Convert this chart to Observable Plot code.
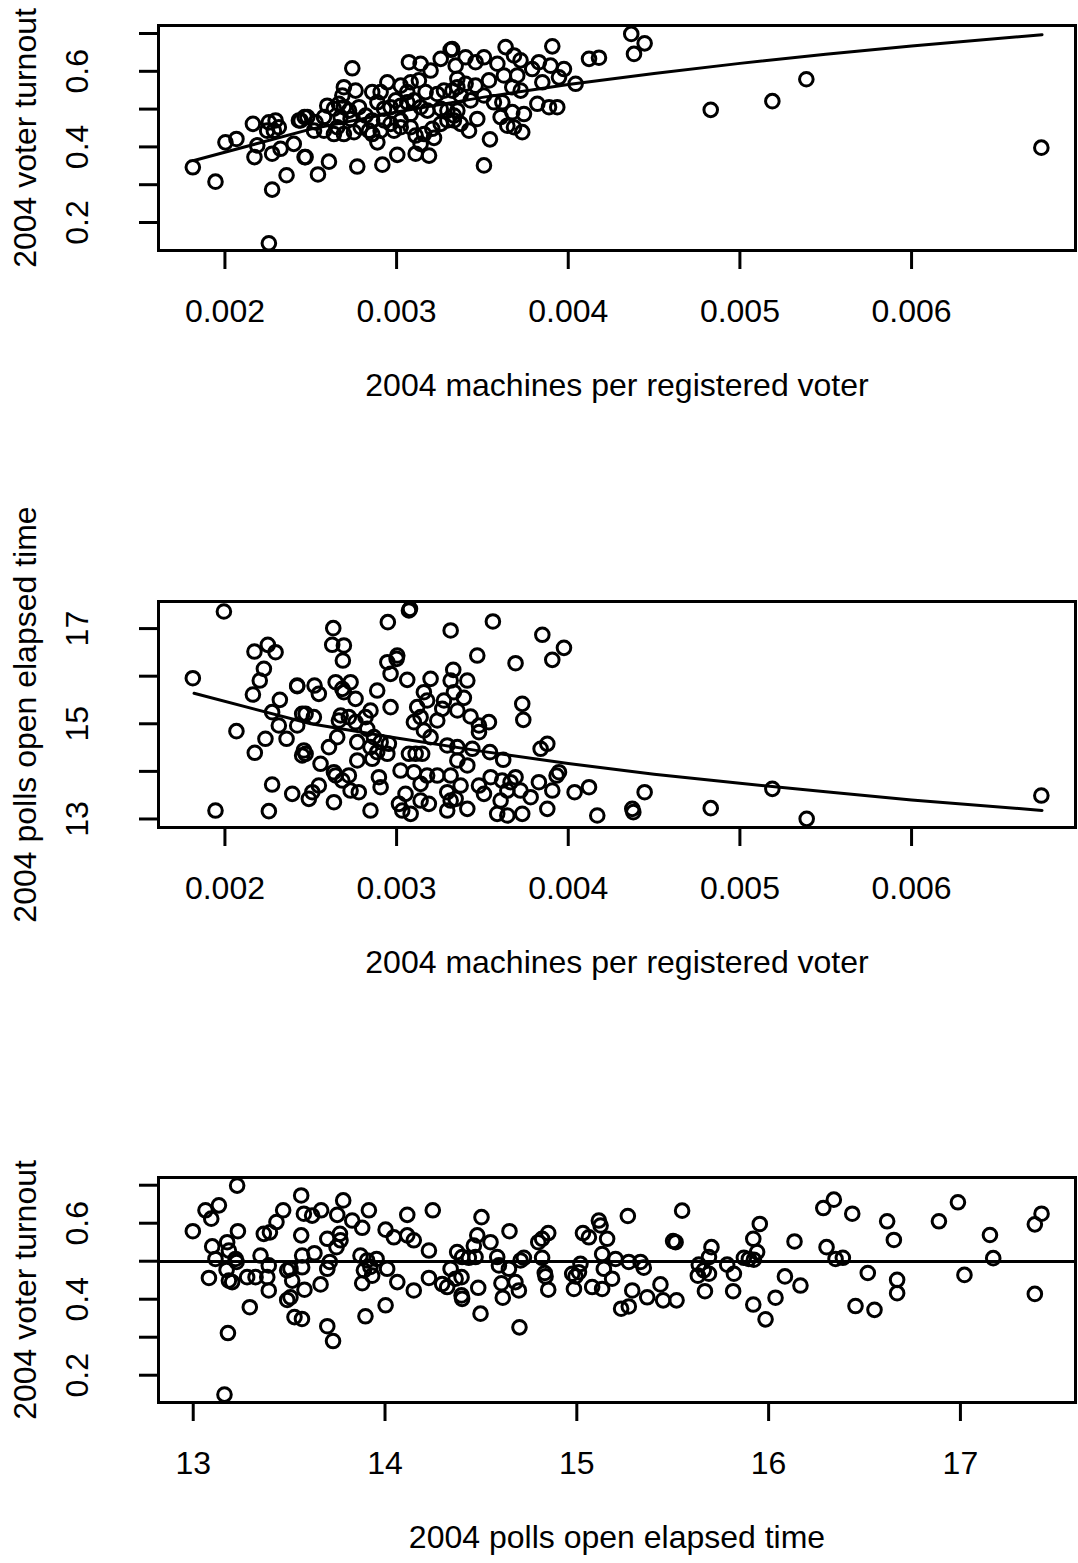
<!DOCTYPE html>
<html><head><meta charset="utf-8">
<script src="https://cdn.jsdelivr.net/npm/d3@7"></script>
<script src="https://cdn.jsdelivr.net/npm/@observablehq/plot@0.6"></script>
<style>
body{margin:0;background:#fff;}
#wrap{position:relative;width:1078px;height:1563px;background:#fff;}
#wrap svg{position:absolute;left:0;}
</style></head><body><div id="wrap"></div>
<script>
// ---------- Panel 1: machines per registered voter vs turnout ----------
const p1Machines = [0.001813,0.001945,0.002275,0.002359,0.002256,0.002003,0.002067,0.002163,0.002295,0.002246,0.002314,0.002188,0.002172,0.002275,0.002324,0.002401,0.002464,0.002431,0.002464,0.002256,0.002285,
0.002742,0.002470,0.002542,0.002606,0.002771,0.002917,0.003004,0.003111,0.003189,0.003218,0.003072,0.003140,0.003198,0.003257,0.003315,0.003344,0.002693,0.002761,0.002684,0.002596,0.002858,0.002946,0.002907,0.003024,0.003082,0.003130,0.003169,0.003276,0.003325,0.003354,0.002441,0.002480,0.002528,0.002577,0.002635,0.002664,0.002693,0.002723,0.002674,0.002732,0.002781,0.002820,0.002858,0.002888,0.002927,0.002965,0.002995,0.003024,0.003062,0.003101,0.003140,0.003179,0.003082,0.003024,0.002965,0.002927,0.002907,0.002858,0.002839,0.002791,0.002752,0.002693,0.002635,0.002577,0.002519,0.002655,0.002985,0.003024,0.003082,0.003111,0.003140,0.002888,0.003257,0.003296,0.003334,0.003296,0.003257,0.003208,0.003160,0.003237,0.003062,
0.003907,0.004121,0.004179,0.003635,0.003324,0.003509,0.003402,0.003460,0.003587,0.003684,0.003722,0.003829,0.003790,0.003897,0.003975,0.003946,0.004043,0.003849,0.003703,0.003625,0.003538,0.003460,0.003402,0.003354,0.003723,0.003674,0.003567,0.003616,0.003820,0.003888,0.003936,0.003431,0.003373,0.003509,0.003470,0.003422,0.003674,0.003742,0.003606,0.003645,0.003732,0.003684,0.003544,0.003509,0.003354,0.003334,0.003373,
0.004367,0.004445,0.004383,0.004830,0.005189,0.005387,0.006756];
const p1Turnout = [0.346,0.308,0.287,0.325,0.145,0.412,0.421,0.461,0.470,0.443,0.452,0.404,0.373,0.382,0.395,0.408,0.373,0.470,0.479,0.465,0.443,
0.608,0.373,0.327,0.361,0.348,0.353,0.379,0.382,0.377,0.424,0.624,0.620,0.602,0.633,0.657,0.615,0.558,0.549,0.536,0.509,0.545,0.571,0.545,0.562,0.571,0.576,0.545,0.549,0.549,0.558,0.470,0.479,0.465,0.479,0.501,0.514,0.505,0.496,0.479,0.474,0.505,0.483,0.470,0.518,0.501,0.505,0.523,0.509,0.518,0.523,0.505,0.496,0.487,0.470,0.461,0.470,0.443,0.434,0.443,0.452,0.439,0.434,0.434,0.443,0.443,0.452,0.443,0.452,0.452,0.430,0.408,0.412,0.501,0.496,0.483,0.470,0.461,0.448,0.434,0.540,0.545,
0.666,0.633,0.636,0.664,0.659,0.637,0.637,0.624,0.620,0.642,0.629,0.624,0.606,0.615,0.606,0.584,0.567,0.571,0.589,0.589,0.576,0.562,0.567,0.580,0.549,0.558,0.518,0.518,0.514,0.505,0.505,0.523,0.536,0.536,0.474,0.443,0.492,0.487,0.479,0.456,0.439,0.452,0.420,0.351,0.496,0.470,0.461,
0.699,0.674,0.646,0.498,0.521,0.579,0.398];
const fit1Machines = [0.00182,0.0025,0.003,0.0035,0.004,0.0045,0.005,0.0055,0.006,0.00676];
const fit1Turnout  = [0.364,0.447,0.4925,0.531,0.565,0.594,0.621,0.645,0.667,0.697];

// ---------- Panel 2: machines per registered voter vs polls open elapsed time ----------
const p2Machines = [0.001994,0.001813,0.001945,0.002067,0.002256,0.002275,0.002392,0.002172,0.002250,0.002295,0.002227,0.002203,0.002163,0.002320,0.002275,0.002421,0.002314,0.002236,0.002359,0.002174,0.002421,0.002450,0.002450,
0.003072,0.003078,0.002949,0.002631,0.002625,0.002693,0.002687,0.002946,0.003004,0.003000,0.002965,0.003062,0.003198,0.002421,0.002522,0.002547,0.002645,0.002684,0.002732,0.002693,0.002761,0.002887,0.002965,0.002848,0.003159,0.003178,0.003120,0.003140,0.003101,0.003159,0.003198,0.002470,0.002518,0.002674,0.002722,0.002664,0.002761,0.002819,0.002829,0.002868,0.002907,0.002955,0.002848,0.002887,0.002946,0.002858,0.002654,0.002606,0.002470,0.002460,0.002771,0.002771,0.002557,0.002645,0.002684,0.002722,0.002635,0.002732,0.002780,0.002907,0.002897,0.003023,0.003072,0.003111,0.003149,0.003101,0.003140,0.003178,0.003052,0.003014,0.003033,0.003082,0.003140,0.003188,0.002848,0.002635,0.002547,0.002509,0.002489,
0.003315,0.003561,0.003470,0.003693,0.003849,0.003907,0.003975,0.003330,0.003315,0.003412,0.003392,0.003334,0.003276,0.003266,0.003354,0.003431,0.003480,0.003480,0.003538,0.003237,0.003732,0.003738,0.003295,0.003354,0.003441,0.003544,0.003621,0.003354,0.003412,0.003839,0.003878,0.003946,0.003932,0.003237,0.003315,0.003373,0.003295,0.003315,0.003344,0.003412,0.003295,0.003480,0.003509,0.003548,0.003615,0.003664,0.003693,0.003645,0.003606,0.003722,0.003586,0.003645,0.003732,0.003781,0.003829,0.003907,0.003878,0.004037,0.004121,0.004169,
0.004445,0.004373,0.004379,0.004830,0.005189,0.005389,0.006756];
const p2Elapsed = [17.359,15.958,13.178,14.845,13.164,13.724,13.528,16.518,16.658,16.504,16.154,15.909,15.615,15.503,15.244,15.804,14.964,14.684,14.684,14.390,14.964,15.209,14.334,
17.380,17.415,17.135,17.009,16.659,16.645,16.329,16.294,16.434,16.364,16.049,15.923,15.944,15.790,15.804,15.629,15.874,15.734,15.874,15.664,15.524,15.699,15.349,15.279,15.664,15.489,15.349,15.139,15.034,14.859,14.719,15.209,15.139,15.174,15.139,15.069,15.034,15.139,14.894,14.719,14.614,14.579,14.509,14.404,14.369,14.264,14.719,14.509,14.369,14.439,14.614,14.229,14.159,13.914,13.808,13.914,13.983,13.598,13.563,13.668,13.878,14.018,14.369,14.369,14.369,13.983,13.738,13.913,13.528,13.318,13.178,13.108,13.388,13.318,13.178,13.353,13.703,13.563,13.423,
16.960,17.149,16.434,16.273,16.869,16.343,16.595,16.133,15.909,15.909,15.545,15.664,15.489,15.314,15.279,15.153,14.964,14.824,15.034,15.069,15.419,15.083,14.544,14.509,14.474,14.404,14.243,14.229,14.124,14.474,14.579,13.983,13.913,13.913,13.913,13.703,13.563,13.388,13.423,13.213,13.178,13.703,13.528,13.878,13.808,13.773,13.878,13.598,13.388,13.598,13.108,13.073,13.108,13.458,13.773,13.598,13.213,13.563,13.668,13.073,
13.563,13.213,13.143,13.227,13.633,13.003,13.493];
const fit2Machines = [0.00182,0.0025,0.003,0.0035,0.004,0.0045,0.005,0.0055,0.006,0.00676];
const fit2Elapsed  = [15.64,15.0,14.70,14.42,14.165,13.94,13.75,13.57,13.40,13.18];

// ---------- Panel 3: polls open elapsed time vs turnout ----------
const p3Elapsed = [13.229,12.998,13.064,13.094,13.134,13.099,13.116,13.177,13.233,13.186,13.221,13.226,13.174,13.082,13.186,13.203,13.181,13.163,13.295,13.281,13.325,13.351,13.386,13.394,13.394,13.368,13.400,13.434,13.469,13.563,13.577,13.620,13.667,13.563,13.568,13.568,13.507,13.490,13.516,13.580,13.507,13.490,13.528,13.567,13.632,13.664,13.699,13.712,13.699,13.699,13.729,13.751,13.782,13.765,13.768,13.747,13.829,13.881,13.916,13.872,13.907,13.890,13.924,13.933,13.881,13.898,13.956,14.003,14.003,14.011,
14.046,14.116,14.116,14.150,14.249,14.229,14.064,14.150,14.229,14.298,14.324,14.342,14.368,14.399,14.399,14.402,14.376,14.402,14.437,14.472,14.463,14.481,14.503,14.550,14.486,14.498,14.585,14.594,14.646,14.607,14.614,14.649,14.680,14.698,14.701,14.707,14.724,14.799,14.819,14.851,14.819,14.833,14.837,14.851,14.976,14.993,15.011,14.985,15.032,15.063,15.115,15.124,15.158,15.132,15.141,15.080,15.132,15.019,
15.184,15.202,15.266,15.271,15.332,15.349,15.289,15.271,15.231,15.367,15.436,15.450,15.520,15.502,15.515,15.549,15.636,15.631,15.662,15.689,15.689,15.702,15.668,15.784,15.819,15.815,15.871,15.897,15.923,15.940,15.920,15.954,15.920,15.984,16.036,16.085,16.166,16.135,16.285,16.340,16.302,16.349,
16.436,16.387,16.517,16.453,16.552,16.618,16.653,16.670,16.670,16.888,16.987,17.021,17.154,17.171,17.388,17.423,17.388];
const p3Turnout = [0.699,0.579,0.634,0.612,0.647,0.539,0.506,0.550,0.579,0.528,0.506,0.498,0.477,0.456,0.449,0.445,0.311,0.149,0.379,0.458,0.458,0.515,0.458,0.489,0.423,0.572,0.576,0.603,0.634,0.673,0.625,0.620,0.634,0.568,0.515,0.484,0.480,0.476,0.449,0.425,0.405,0.398,0.353,0.348,0.521,0.439,0.480,0.498,0.559,0.329,0.290,0.622,0.660,0.572,0.555,0.537,0.607,0.588,0.634,0.515,0.502,0.476,0.485,0.462,0.442,0.355,0.506,0.583,0.384,0.480,
0.563,0.622,0.568,0.555,0.634,0.528,0.445,0.423,0.456,0.440,0.432,0.480,0.454,0.458,0.410,0.401,0.524,0.511,0.509,0.511,0.541,0.568,0.616,0.550,0.430,0.362,0.511,0.489,0.480,0.442,0.404,0.579,0.445,0.423,0.326,0.502,0.509,0.550,0.559,0.574,0.509,0.469,0.460,0.425,0.467,0.460,0.471,0.427,0.574,0.563,0.607,0.594,0.559,0.519,0.480,0.432,0.427,0.493,
0.454,0.506,0.619,0.498,0.498,0.483,0.423,0.381,0.375,0.405,0.439,0.397,0.397,0.553,0.550,0.633,0.491,0.462,0.476,0.467,0.511,0.537,0.421,0.491,0.467,0.421,0.509,0.506,0.504,0.524,0.559,0.598,0.386,0.347,0.404,0.460,0.436,0.552,0.640,0.662,0.537,0.506,
0.625,0.509,0.469,0.382,0.372,0.605,0.556,0.451,0.416,0.605,0.655,0.464,0.569,0.508,0.597,0.625,0.414];
const fit3Turnout = 0.499;

// ---------- Axis ticks and labels ----------
const machineTicks = [0.002,0.003,0.004,0.005,0.006];
const machineTickLabels = ["0.002","0.003","0.004","0.005","0.006"];
const turnoutTicks = [0.2,0.3,0.4,0.5,0.6,0.7];
const turnoutTickLabels = ["0.2","","0.4","","0.6",""];
const elapsedTicks = [13,14,15,16,17];
const elapsedTickLabelsY = ["13","","15","","17"];
const elapsedTickLabelsX = ["13","14","15","16","17"];

const xTitleMachines = "2004 machines per registered voter";
const xTitleElapsed = "2004 polls open elapsed time";
const yTitleTurnout = "2004 voter turnout";
const yTitleElapsed = "2004 polls open elapsed time";

const FONT = "'Liberation Sans', Arial, Helvetica, sans-serif";
const zip = (a, b) => a.map((v, i) => ({x: v, y: b[i]}));
const fmtFrom = (ticks, labels) => { const m = new Map(ticks.map((t, i) => [t, labels[i]])); return d => m.get(d) ?? ""; };

function panel({data, xDomain, yDomain, xTicks, xLabels, yTicks, yLabels, xTitle, yTitle, fitMark, inner, top}) {
  const height = 25 + inner + 170;
  const svg = Plot.plot({
    width: 1078, height,
    marginLeft: 158, marginRight: 3, marginTop: 25, marginBottom: 170,
    x: {domain: xDomain}, y: {domain: yDomain},
    style: {fontFamily: FONT, fontSize: "32px", color: "black", background: "white", overflow: "visible"},
    marks: [
      Plot.dot(data, {x: "x", y: "y", r: 6.8, stroke: "black", strokeWidth: 3, fill: "none"}),
      fitMark,
      Plot.frame({stroke: "black", strokeWidth: 3}),
      Plot.axisX({ticks: xTicks, tickFormat: fmtFrom(xTicks, xLabels), tickSize: 19, tickPadding: 30, strokeWidth: 3, fontSize: 32, label: null}),
      Plot.axisY({ticks: yTicks, tickFormat: fmtFrom(yTicks, yLabels), tickSize: 19, tickPadding: 52, tickRotate: -90, strokeWidth: 3, fontSize: 32, label: null}),
      Plot.text([xTitle], {text: d => d, frameAnchor: "bottom", dy: 135, lineAnchor: "middle", fontSize: 32}),
      Plot.text([yTitle], {text: d => d, frameAnchor: "left", dx: -133, rotate: -90, lineAnchor: "middle", textAnchor: "middle", fontSize: 32})
    ]
  });
  svg.style.top = top + "px";
  document.getElementById("wrap").appendChild(svg);
}

panel({
  data: zip(p1Machines, p1Turnout),
  xDomain: [0.001613, 0.006955], yDomain: [0.1259, 0.7212],
  xTicks: machineTicks, xLabels: machineTickLabels,
  yTicks: turnoutTicks, yLabels: turnoutTickLabels,
  xTitle: xTitleMachines, yTitle: yTitleTurnout,
  fitMark: Plot.line(zip(fit1Machines, fit1Turnout), {x: "x", y: "y", stroke: "black", strokeWidth: 3}),
  inner: 225, top: 0
});
panel({
  data: zip(p2Machines, p2Elapsed),
  xDomain: [0.001613, 0.006955], yDomain: [12.821, 17.569],
  xTicks: machineTicks, xLabels: machineTickLabels,
  yTicks: elapsedTicks, yLabels: elapsedTickLabelsY,
  xTitle: xTitleMachines, yTitle: yTitleElapsed,
  fitMark: Plot.line(zip(fit2Machines, fit2Elapsed), {x: "x", y: "y", stroke: "black", strokeWidth: 3}),
  inner: 226, top: 576
});
panel({
  data: zip(p3Elapsed, p3Turnout),
  xDomain: [12.819, 17.600], yDomain: [0.1282, 0.7203],
  xTicks: elapsedTicks, xLabels: elapsedTickLabelsX,
  yTicks: turnoutTicks, yLabels: turnoutTickLabels,
  xTitle: xTitleElapsed, yTitle: yTitleTurnout,
  fitMark: Plot.ruleY([fit3Turnout], {stroke: "black", strokeWidth: 3}),
  inner: 225, top: 1152
});
</script></body></html>
